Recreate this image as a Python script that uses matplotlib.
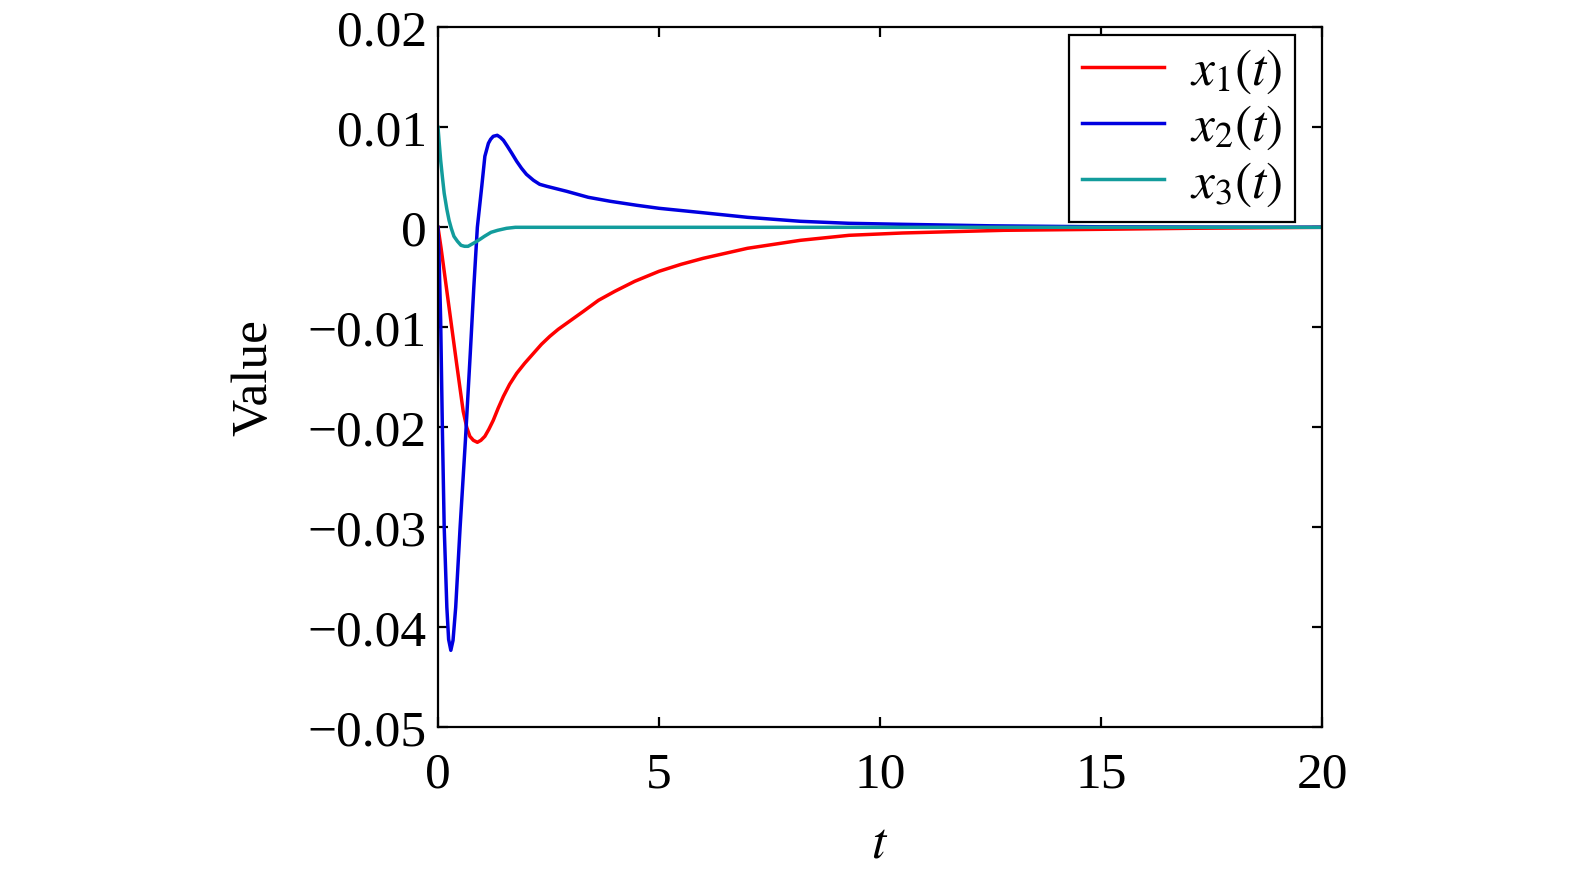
import numpy as np
import matplotlib.pyplot as plt

# values
t1 = [0, 0.07, 0.14, 0.28, 0.42, 0.57, 0.65, 0.72, 0.80, 0.89, 0.97, 1.06, 1.15,
      1.25, 1.36, 1.48, 1.62, 1.78, 1.96, 2.16, 2.34, 2.53, 2.72, 2.91, 3.29,
      3.63, 4.0, 4.45, 5.0, 5.5, 6.0, 7.0, 8.2, 9.3, 10.5, 12.8, 15, 17, 20]
x1 = [0, -0.0021, -0.0044, -0.0090, -0.0136, -0.0184, -0.0200, -0.0209, -0.0213,
      -0.0215, -0.0213, -0.0209, -0.0202, -0.0193, -0.0181, -0.0169, -0.0157,
      -0.0146, -0.0136, -0.0126, -0.0117, -0.0109, -0.0102, -0.0096, -0.0084,
      -0.0073, -0.0064, -0.0054, -0.0044, -0.0037, -0.0031, -0.0021, -0.0013,
      -0.0008, -0.00057, -0.0003, -0.0002, -0.0001, 0]

t2 = [0, 0.03, 0.06, 0.1, 0.14, 0.2, 0.24, 0.29, 0.34, 0.4, 0.5, 0.62, 0.73, 0.81,
      0.89, 0.99, 1.06, 1.14, 1.19, 1.25, 1.34, 1.41, 1.48, 1.57, 1.67, 1.78,
      1.89, 2.0, 2.16, 2.3, 2.46, 2.91, 3.4, 3.9, 4.5, 5.0, 5.9, 7.0, 8.2, 9.3,
      10.5, 12.5, 15, 17.5, 20]
x2 = [0, -0.004, -0.0093, -0.0205, -0.030, -0.038, -0.0412, -0.0423, -0.0413,
      -0.038, -0.030, -0.0213, -0.0126, -0.006, 0.0, 0.0041, 0.0071, 0.0084,
      0.0088, 0.0091, 0.0092, 0.0090, 0.0087, 0.0081, 0.0074, 0.0066, 0.0059,
      0.0053, 0.0047, 0.0043, 0.0041, 0.0036, 0.0030, 0.0026, 0.0022, 0.0019,
      0.0015, 0.0010, 0.0006, 0.0004, 0.0003, 0.00015, 0.00005, 0.00002, 0]

t3 = [0, 0.03, 0.06, 0.1, 0.14, 0.2, 0.25, 0.3, 0.36, 0.44, 0.52, 0.6, 0.68, 0.76,
      0.84, 0.95, 1.05, 1.2, 1.35, 1.55, 1.75, 2.5, 20]
x3 = [0.01, 0.0083, 0.0067, 0.0050, 0.0034, 0.0018, 0.0007, -0.0001, -0.0009,
      -0.0014, -0.0018, -0.0019, -0.0019, -0.0017, -0.0015, -0.0012, -0.0009,
      -0.0005, -0.0003, -0.0001, 0.0, 0.0, 0.0]

labels = [r'$x_1(t)$', r'$x_2(t)$', r'$x_3(t)$']
colors = ['#ff0000', '#0000e0', '#129c9c']

plt.rcParams['font.family'] = ['Liberation Serif', 'DejaVu Serif']
plt.rcParams['mathtext.fontset'] = 'stix'
plt.rcParams['font.size'] = 37

fig = plt.figure(figsize=(15.75, 8.72), dpi=100)
ax = fig.add_axes([0.2781, 0.1659, 0.8394 - 0.2781, 0.9687 - 0.1659])

for t, x, lab, c in zip([t1, t2, t3], [x1, x2, x3], labels, colors):
    ax.plot(t, x, color=c, lw=2.5, label=lab)

ax.set_xlim(0, 20)
ax.set_ylim(-0.05, 0.02)
ax.set_xticks([0, 5, 10, 15, 20])
ax.set_yticks([-0.05, -0.04, -0.03, -0.02, -0.01, 0, 0.01, 0.02])
ax.set_yticklabels(['\u22120.05', '\u22120.04', '\u22120.03', '\u22120.02',
                    '\u22120.01', '0', '0.01', '0.02'])
ax.tick_params(direction='in', top=True, right=True, length=7.2, width=1.6,
               labelsize=37)
ax.tick_params(axis='x', pad=18)
ax.tick_params(axis='y', pad=8)
for s in ax.spines.values():
    s.set_linewidth(1.6)

ax.set_xlabel(r'$t$', fontsize=37, labelpad=17)
ax.set_ylabel('Value', fontsize=37, labelpad=22)

leg = ax.legend(loc='upper right', bbox_to_anchor=(0.9695, 0.989), fancybox=False,
                edgecolor='black', framealpha=1, handlelength=1.6,
                handletextpad=0.5, labelspacing=0.15, borderpad=0.25,
                borderaxespad=0, fontsize=37)
leg.get_frame().set_linewidth(1.6)

fig.savefig('out.png', dpi=100)
